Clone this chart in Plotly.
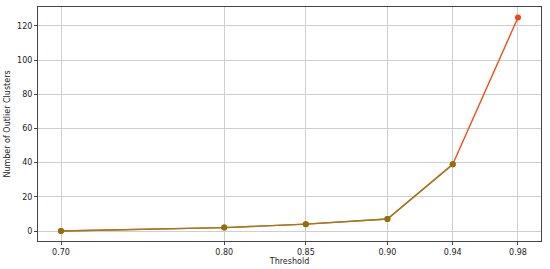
import plotly.graph_objects as go

thresholds = [0.70, 0.80, 0.85, 0.90, 0.94, 0.98]
outlier_clusters = [0, 2, 4, 7, 39, 125]
tick_labels = ["0.70", "0.80", "0.85", "0.90", "0.94", "0.98"]

fig = go.Figure()

# full series in orange-red underneath
fig.add_trace(go.Scatter(
    x=thresholds, y=outlier_clusters, mode="lines+markers",
    line=dict(color="#f2501e", width=1.4),
    marker=dict(color="#f2451a", size=6),
    showlegend=False,
))
# lower thresholds on top in olive
fig.add_trace(go.Scatter(
    x=thresholds[:5], y=outlier_clusters[:5], mode="lines+markers",
    line=dict(color="#9c7d1c", width=1.4),
    marker=dict(color="#8c7208", size=6),
    showlegend=False,
))

axis_common = dict(
    showgrid=True, gridcolor="#cfcfcf", gridwidth=1,
    showline=True, linecolor="#444444", linewidth=1, mirror=True,
    ticks="outside", ticklen=3, tickcolor="#444444",
    tickfont=dict(size=8, color="#222222"),
    zeroline=False, automargin=False,
)

fig.update_xaxes(
    range=[0.6859, 0.9941], tickvals=thresholds, ticktext=tick_labels,
    title=dict(text="Threshold", font=dict(size=8, color="#222222"), standoff=0),
    **axis_common,
)
fig.update_yaxes(
    range=[-5.85, 131.1], tickvals=[0, 20, 40, 60, 80, 100, 120],
    title=dict(text="Number of Outlier Clusters", font=dict(size=8, color="#222222"), standoff=5),
    **axis_common,
)

fig.update_layout(
    width=550, height=269,
    margin=dict(l=38, r=9, t=7, b=28),
    paper_bgcolor="white", plot_bgcolor="white",
    font=dict(family="DejaVu Sans"),
)

# the page body has a default margin; drop it so the figure sits at 0,0
fig.write_html("out.html", config={"displayModeBar": False},
               post_script="document.body.style.margin='0';")
